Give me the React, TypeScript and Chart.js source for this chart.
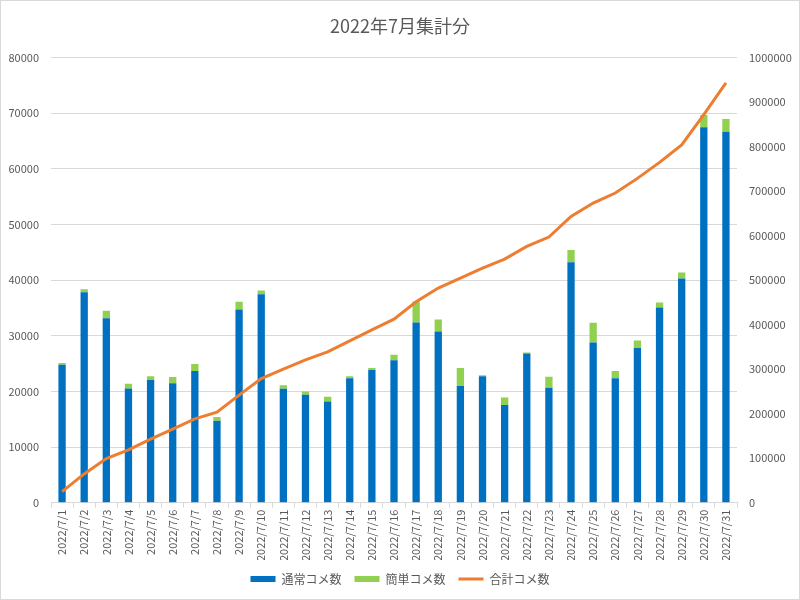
import React, { useEffect, useRef } from "react";
import { Chart, registerables } from "chart.js";

Chart.register(...registerables);

const categories = [
  "2022/7/1", "2022/7/2", "2022/7/3", "2022/7/4", "2022/7/5", "2022/7/6", "2022/7/7", "2022/7/8",
  "2022/7/9", "2022/7/10", "2022/7/11", "2022/7/12", "2022/7/13", "2022/7/14", "2022/7/15", "2022/7/16",
  "2022/7/17", "2022/7/18", "2022/7/19", "2022/7/20", "2022/7/21", "2022/7/22", "2022/7/23", "2022/7/24",
  "2022/7/25", "2022/7/26", "2022/7/27", "2022/7/28", "2022/7/29", "2022/7/30", "2022/7/31",
];

const normalComments = [
  24800, 37840, 33150, 20540, 22050, 21440, 23680, 14720, 34720, 37480,
  20490, 19400, 18200, 22340, 23850, 25590, 32380, 30760, 20970, 22700,
  17550, 26790, 20670, 43190, 28780, 22340, 27820, 35080, 40300, 67460, 66670,
];

const simpleComments = [
  300, 540, 1330, 850, 650, 1150, 1260, 670, 1380, 660,
  590, 600, 850, 360, 350, 1010, 3780, 2160, 3240, 200,
  1370, 180, 1980, 2210, 3540, 1330, 1320, 900, 1090, 2220, 2280,
];

const totalComments = [
  24700, 64500, 98900, 118500, 142600, 165000, 188200, 203300, 241500, 278800,
  300000, 320900, 338900, 363600, 388300, 412400, 451300, 482100, 504600, 527000,
  547300, 575700, 596800, 643100, 673200, 695700, 728600, 764600, 803700, 871800, 943100,
];

const leftTicksMax = 80000;
const leftTickStep = 10000;
const rightTicksMax = 1000000;
const rightTickStep = 100000;

const FONT = "'Noto Sans CJK JP', 'Noto Sans', sans-serif";
const GRAY = "#595959";

export default function App() {
  const ref = useRef<HTMLCanvasElement | null>(null);

  useEffect(() => {
    document.body.style.margin = "0";
    const ctx = ref.current!;
    const chart = new Chart(ctx, {
      data: {
        labels: categories,
        datasets: [
          {
            type: "line",
            label: "合計コメ数",
            data: totalComments,
            yAxisID: "y1",
            borderColor: "#ED7D31",
            backgroundColor: "#ED7D31",
            borderWidth: 3,
            pointRadius: 0,
            tension: 0,
            order: 0,
          },
          {
            type: "bar",
            label: "通常コメ数",
            data: normalComments,
            yAxisID: "y",
            backgroundColor: "#0070C0",
            barPercentage: 0.33,
            categoryPercentage: 1,
            stack: "s",
            order: 1,
          },
          {
            type: "bar",
            label: "簡単コメ数",
            data: simpleComments,
            yAxisID: "y",
            backgroundColor: "#92D050",
            barPercentage: 0.33,
            categoryPercentage: 1,
            stack: "s",
            order: 1,
          },
        ],
      },
      options: {
        animation: false,
        responsive: false,
        layout: { padding: { left: 0, right: 0, top: 10, bottom: 4 } },
        plugins: {
          title: {
            display: true,
            text: "2022年7月集計分",
            color: GRAY,
            font: { family: FONT, size: 18, weight: "normal" },
            padding: { top: 4, bottom: 21 },
          },
          legend: {
            position: "bottom",
            labels: {
              color: GRAY,
              font: { family: FONT, size: 12 },
              usePointStyle: true,
              pointStyleWidth: 25,
              boxHeight: 6,
              padding: 13,
              sort: (a: any, b: any) => {
                const order = ["通常コメ数", "簡単コメ数", "合計コメ数"];
                return order.indexOf(a.text) - order.indexOf(b.text);
              },
              generateLabels: (c: any) => {
                const items = Chart.defaults.plugins.legend.labels.generateLabels(c);
                return items.map((it: any) => {
                  if (it.text === "合計コメ数") {
                    return { ...it, pointStyle: "line", lineWidth: 3, strokeStyle: "#ED7D31", fillStyle: "#ED7D31" };
                  }
                  return { ...it, pointStyle: "rect", lineWidth: 0 };
                });
              },
            },
          },
          tooltip: { enabled: false },
        },
        scales: {
          x: {
            stacked: true,
            offset: true,
            grid: {
              display: true,
              drawOnChartArea: false,
              offset: true,
              color: "#D9D9D9",
              tickLength: 5,
            },
            border: { display: true, color: "#D9D9D9" },
            ticks: {
              color: GRAY,
              font: { family: FONT, size: 11 },
              maxRotation: 90,
              minRotation: 90,
              autoSkip: false,
              padding: 2,
            },
            afterFit: (s: any) => {
              s.height = s.height - 3;
            },
          },
          y: {
            stacked: true,
            position: "left",
            min: 0,
            max: leftTicksMax,
            ticks: {
              stepSize: leftTickStep,
              color: GRAY,
              font: { family: FONT, size: 11 },
              padding: 12,
              callback: (v: any) => String(v),
            },
            grid: { color: "#D9D9D9", drawTicks: false },
            border: { display: false },
            afterFit: (s: any) => {
              s.width = 50;
            },
          },
          y1: {
            position: "right",
            min: 0,
            max: rightTicksMax,
            ticks: {
              stepSize: rightTickStep,
              color: GRAY,
              font: { family: FONT, size: 11 },
              padding: 12,
              callback: (v: any) => String(v),
            },
            grid: { drawOnChartArea: false, drawTicks: false },
            border: { display: false },
            afterFit: (s: any) => {
              s.width = 62;
            },
          },
        },
      } as any,
    });
    return () => chart.destroy();
  }, []);

  return (
    <div
      style={{
        position: "absolute",
        left: 0,
        top: 0,
        width: 800,
        height: 600,
        boxSizing: "border-box",
        border: "1px solid #D9D9D9",
        background: "#fff",
      }}
    >
      <canvas ref={ref} width={798} height={598} style={{ display: "block" }} />
    </div>
  );
}
